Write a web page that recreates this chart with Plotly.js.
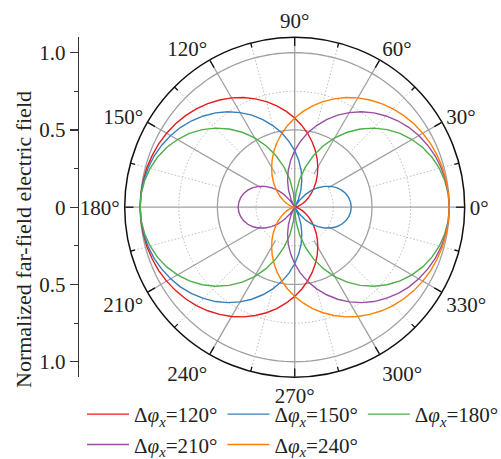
<!DOCTYPE html>
<html>
<head>
<meta charset="utf-8">
<script src="https://cdn.plot.ly/plotly-3.0.1.min.js"></script>
<style>html,body{margin:0;padding:0;background:#fff;}#chart{width:501px;height:459px;}</style>
</head>
<body>
<div id="chart"></div>
<script>
// Angles (degrees) at which the patterns were read
const thetaDeg = [0,5,10,15,20,25,30,35,40,45,50,55,60,65,70,75,80,85,90,95,100,105,110,115,120,125,130,135,140,145,150,155,160,165,170,175,180,
  185,190,195,200,205,210,215,220,225,230,235,240,245,250,255,260,265,270,275,280,285,290,295,300,305,310,315,320,325,330,335,340,345,350,355,360];

const seriesNames = ['Δ<i>φ</i><sub><i>x</i></sub>=120°','Δ<i>φ</i><sub><i>x</i></sub>=150°','Δ<i>φ</i><sub><i>x</i></sub>=180°','Δ<i>φ</i><sub><i>x</i></sub>=210°','Δ<i>φ</i><sub><i>x</i></sub>=240°'];
const seriesColors = ['#e41a1c','#377eb8','#4daf4a','#984ea3','#ff7f00'];

const field120 = [0,0.002,0.009,0.021,0.037,0.057,0.081,0.109,0.141,0.176,0.215,0.256,0.299,0.344,0.390,0.437,0.484,0.531,0.577,0.622,0.666,0.707,0.746,0.783,0.817,0.847,0.875,0.900,0.922,0.941,0.957,0.971,0.981,0.990,0.995,0.999,1.000,
  0.999,0.995,0.990,0.981,0.971,0.957,0.941,0.922,0.900,0.875,0.847,0.817,0.783,0.746,0.707,0.666,0.622,0.577,0.531,0.484,0.437,0.390,0.344,0.299,0.256,0.215,0.176,0.141,0.109,0.081,0.057,0.037,0.021,0.009,0.002,0];

const field150 = [0.366,0.363,0.355,0.342,0.323,0.299,0.269,0.235,0.196,0.153,0.106,0.054,0,0.057,0.117,0.178,0.241,0.303,0.366,0.428,0.489,0.547,0.603,0.657,0.707,0.754,0.797,0.835,0.870,0.901,0.927,0.949,0.968,0.982,0.992,0.998,1.000,
  0.998,0.992,0.982,0.968,0.949,0.927,0.901,0.870,0.835,0.797,0.754,0.707,0.657,0.603,0.547,0.489,0.428,0.366,0.303,0.241,0.178,0.117,0.057,0,0.054,0.106,0.153,0.196,0.235,0.269,0.299,0.323,0.342,0.355,0.363,0.366];

const field180 = [1.000,0.997,0.986,0.969,0.945,0.914,0.876,0.832,0.781,0.724,0.660,0.592,0.518,0.439,0.356,0.270,0.182,0.091,0,0.091,0.182,0.270,0.356,0.439,0.518,0.592,0.660,0.724,0.781,0.832,0.876,0.914,0.945,0.969,0.986,0.997,1.000,
  0.997,0.986,0.969,0.945,0.914,0.876,0.832,0.781,0.724,0.660,0.592,0.518,0.439,0.356,0.270,0.182,0.091,0,0.091,0.182,0.270,0.356,0.439,0.518,0.592,0.660,0.724,0.781,0.832,0.876,0.914,0.945,0.969,0.986,0.997,1.000];

const field210 = [1.000,0.998,0.992,0.982,0.968,0.949,0.927,0.901,0.870,0.835,0.797,0.754,0.707,0.657,0.603,0.547,0.489,0.428,0.366,0.303,0.241,0.178,0.117,0.057,0,0.054,0.106,0.153,0.196,0.235,0.269,0.299,0.323,0.342,0.355,0.363,0.366,
  0.363,0.355,0.342,0.323,0.299,0.269,0.235,0.196,0.153,0.106,0.054,0,0.057,0.117,0.178,0.241,0.303,0.366,0.428,0.489,0.547,0.603,0.657,0.707,0.754,0.797,0.835,0.870,0.901,0.927,0.949,0.968,0.982,0.992,0.998,1.000];

const field240 = [1.000,0.999,0.995,0.990,0.981,0.971,0.957,0.941,0.922,0.900,0.875,0.847,0.817,0.783,0.746,0.707,0.666,0.622,0.577,0.531,0.484,0.437,0.390,0.344,0.299,0.256,0.215,0.176,0.141,0.109,0.081,0.057,0.037,0.021,0.009,0.002,0,
  0.002,0.009,0.021,0.037,0.057,0.081,0.109,0.141,0.176,0.215,0.256,0.299,0.344,0.390,0.437,0.484,0.531,0.577,0.622,0.666,0.707,0.746,0.783,0.817,0.847,0.875,0.900,0.922,0.941,0.957,0.971,0.981,0.990,0.995,0.999,1.000];

const angleTickVals = [0,30,60,90,120,150,180,210,240,270,300,330];
const angleTickText = ['0°','30°','60°','90°','120°','150°','180°','210°','240°','270°','300°','330°'];
const leftTickVals = [-1,-0.5,0,0.5,1];
const leftTickText = ['1.0','0.5','0','0.5','1.0'];
const leftMinorVals = [-0.75,-0.25,0.25,0.75];
const yTitle = 'Normalized far-field electric field';

const FONT = 'Liberation Serif, Times New Roman, serif';
const FS = 21;
const RMAX = 1.1;
const traces = [];
const gridSolid = '#a0a0a0';
const gridDot = '#bcbcbc';

function gridTrace(r, theta, color, dash, width) {
  return {type:'scatterpolar', mode:'lines', r:r, theta:theta, showlegend:false, hoverinfo:'skip',
    line:{color:color, width:width||1.2, dash:dash||'solid'}};
}
const DOT = '1.5px,2px';
// circles
const circTheta = []; for (let a = 0; a <= 360; a += 2) circTheta.push(a);
[[0.25,'dot'],[0.75,'dot'],[0.5,'solid'],[1.0,'solid']].forEach(([rr,d]) => {
  traces.push(gridTrace(circTheta.map(()=>rr), circTheta, d==='dot'?gridDot:gridSolid, d==='dot'?DOT:'solid', d==='dot'?1:1.3));
});
// dotted spokes at 15 + 30k
for (let a = 15; a < 360; a += 30) traces.push(gridTrace([0.5, RMAX], [a, a], gridDot, DOT, 1));
// solid spokes
for (let a = 30; a < 360; a += 30) {
  if (a % 90 === 0) continue;
  traces.push(gridTrace([0.25, RMAX], [a, a], gridSolid, 'solid', 1.3));
}
traces.push(gridTrace([RMAX, 0, RMAX], [0, 0, 180], gridSolid, 'solid', 1.3));
traces.push(gridTrace([RMAX, 0, RMAX], [90, 90, 270], gridSolid, 'solid', 1.3));
// minor ticks (black, inside outer circle)
for (let a = 15; a < 360; a += 30) traces.push(gridTrace([RMAX-0.03, RMAX], [a, a], '#111', 'solid', 1.3));

const fields = [field120, field150, field180, field210, field240];
fields.forEach((f, i) => {
  traces.push({type:'scatterpolar', mode:'lines', r:f, theta:thetaDeg, name:seriesNames[i],
    line:{color:seriesColors[i], width:1.4}, hoverinfo:'skip'});
});
// carrier for the left linear axis
traces.push({type:'scatter', x:[0], y:[0], mode:'markers', marker:{opacity:0}, showlegend:false, hoverinfo:'skip', xaxis:'x', yaxis:'y'});

const W = 501, H = 459;
const cx = 294.7, cy = 207.2, R = 170;
const layout = {
  width:W, height:H, margin:{l:0,r:0,t:0,b:0,autoexpand:false}, paper_bgcolor:'#fff', plot_bgcolor:'rgba(0,0,0,0)',
  font:{family:FONT, size:FS, color:'#222'},
  showlegend:true,
  polar:{
    domain:{x:[(cx-R)/W,(cx+R)/W], y:[1-(cy+R)/H, 1-(cy-R)/H]},
    bgcolor:'rgba(0,0,0,0)',
    radialaxis:{range:[0,RMAX], visible:false, showgrid:false},
    angularaxis:{direction:'counterclockwise', rotation:0, tickmode:'array', tickvals:angleTickVals, ticktext:angleTickText,
      showgrid:false, showline:true, linecolor:'#111', linewidth:1.5, ticks:'inside', ticklen:8, tickwidth:1.3, tickcolor:'#111',
      tickfont:{family:FONT, size:FS, color:'#222'}}
  },
  xaxis:{domain:[79.3/W, 0.2], visible:false, range:[0,1], fixedrange:true},
  yaxis:{domain:[1-(cy+R)/H, 1-(cy-R)/H], range:[-RMAX,RMAX], anchor:'x', tickmode:'array', tickvals:leftTickVals, ticktext:leftTickText,
    ticks:'outside', ticklen:8, tickwidth:1.3, tickcolor:'#333', showline:true, linecolor:'#333', linewidth:1.5,
    showgrid:false, zeroline:false, tickfont:{family:FONT, size:FS, color:'#222'},
    minor:{tickmode:'array', tickvals:leftMinorVals, ticks:'outside', ticklen:4, tickwidth:1.2, tickcolor:'#333', showgrid:false}},
  legend:{orientation:'h', x:82/W, xanchor:'left', y:1-394/H, yanchor:'top', bgcolor:'rgba(0,0,0,0)',
    font:{family:FONT, size:FS, color:'#222'}, itemwidth:42, tracegroupgap:0},
  annotations:[{text:yTitle, xref:'paper', yref:'paper', x:23/W, y:1-240/H, xanchor:'center', yanchor:'middle',
    textangle:-90, showarrow:false, font:{family:FONT, size:22, color:'#222'}}]
};
Plotly.newPlot('chart', traces, layout, {displayModeBar:false, staticPlot:true});
</script>
</body>
</html>
